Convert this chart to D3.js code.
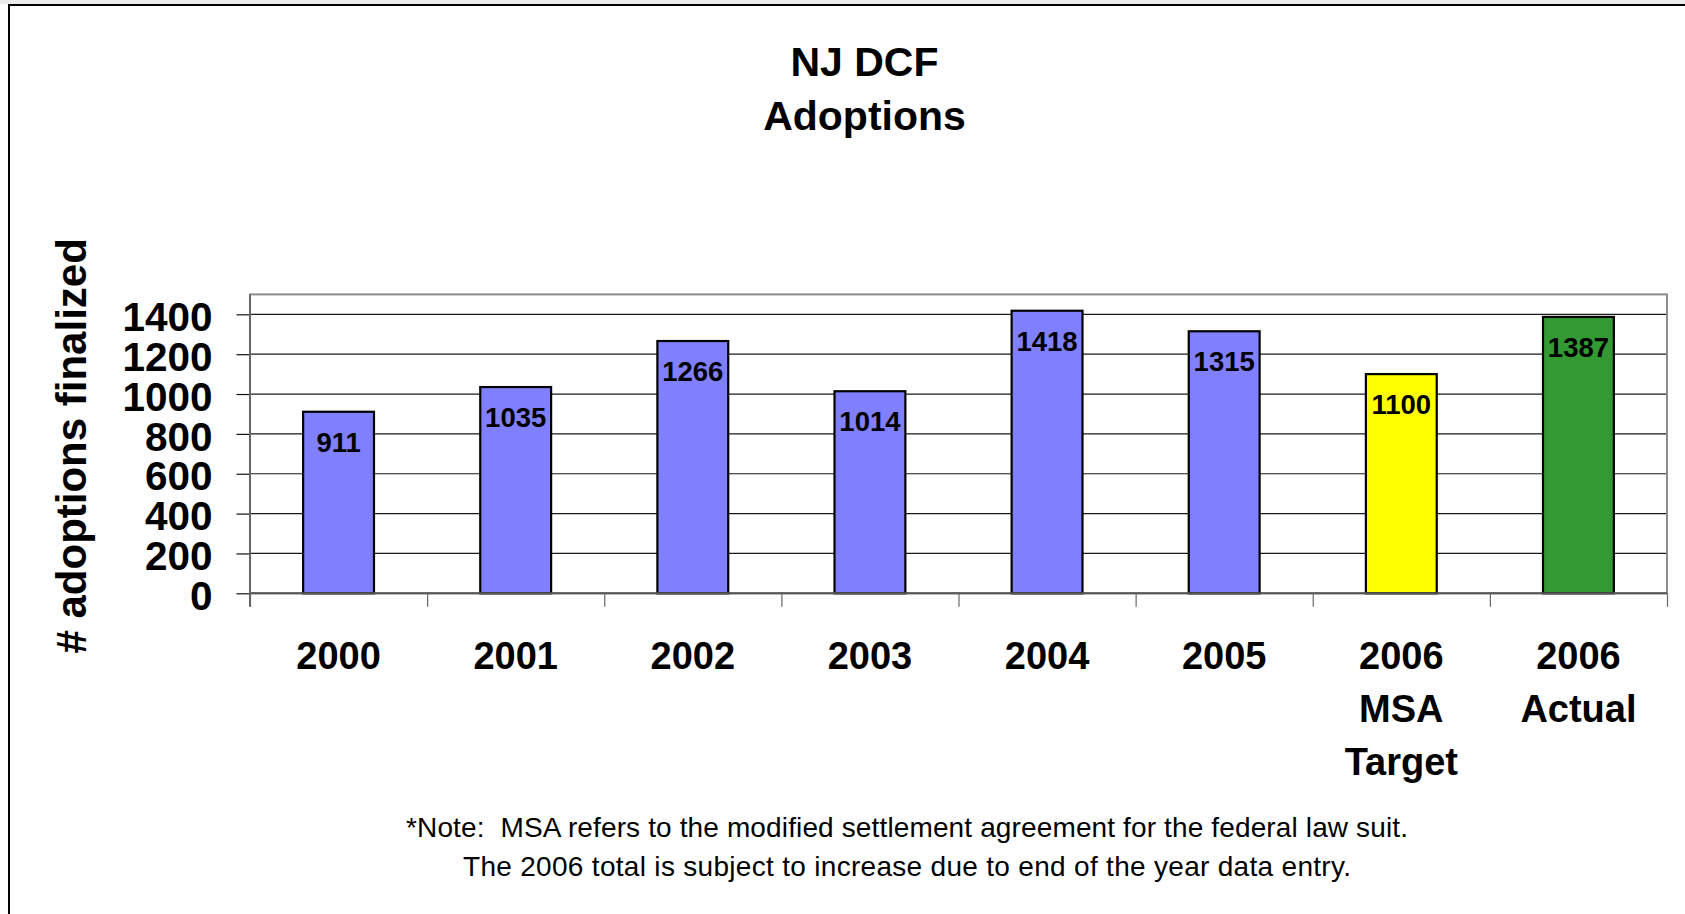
<!DOCTYPE html>
<html>
<head>
<meta charset="utf-8">
<script src="https://cdn.jsdelivr.net/npm/d3@7"></script>
<style>
    html, body { margin: 0; padding: 0; background: #fff; }
    svg { display: block; font-family: Arial, "Liberation Sans", Helvetica, sans-serif; }
    .axis path { display: none; }
    .note { white-space: pre; }
</style>
</head>
<body>
<svg id="chart" width="1685" height="914"></svg>
<script>
var categories = ["2000", "2001", "2002", "2003", "2004", "2005", "2006 MSA Target", "2006 Actual"]
var adoptions = [911, 1035, 1266, 1014, 1418, 1315, 1100, 1387]
var barColors = ["#8080FF", "#8080FF", "#8080FF", "#8080FF", "#8080FF", "#8080FF", "#FFFF00", "#339933"]
var yTicks = [0, 200, 400, 600, 800, 1000, 1200, 1400]
var titleLines = ["NJ DCF", "Adoptions"]
var yTitle = "# adoptions finalized"
var noteLines = [
    "*Note:  MSA refers to the modified settlement agreement for the federal law suit.",
    "The 2006 total is subject to increase due to end of the year data entry."
]

var svg = d3.select("#chart")
var W = 1685, H = 914
var plot = {left: 250, right: 1667, top: 294.4, bottom: 593.3}

// outer frame (cropped at right and bottom)
svg.append("rect").attr("x", 0).attr("y", 0).attr("width", W).attr("height", 4).attr("fill", "#ececec")
svg.append("path")
    .attr("d", "M9," + H + "V5H" + W)
    .attr("fill", "none")
    .attr("stroke", "#000")
    .attr("stroke-width", 2)

// title
svg.append("g").selectAll("text")
    .data(titleLines)
    .enter().append("text")
    .attr("x", 864.5)
    .attr("y", function(d, i) { return 76 + i * 54 })
    .attr("text-anchor", "middle")
    .attr("font-size", 41)
    .attr("font-weight", "bold")
    .text(function(d) { return d })

var x = d3.scaleBand()
    .domain(categories)
    .range([plot.left, plot.right])
    .paddingInner(0.6)
    .paddingOuter(0.3)

var xEdges = d3.scaleLinear()
    .domain([0, categories.length])
    .range([plot.left, plot.right])

var y = d3.scaleLinear()
    .domain([0, 1500])
    .range([plot.bottom, plot.top])

// grid lines Y = const
svg.append("g")
    .selectAll("line")
    .data(yTicks.filter(function(d) { return d > 0 }))
    .enter().append("line")
    .attr("x1", plot.left)
    .attr("x2", plot.right)
    .attr("y1", function(d) { return y(d) })
    .attr("y2", function(d) { return y(d) })
    .attr("stroke", "#1a1a1a")
    .attr("stroke-width", 1.2)

// plot frame
svg.append("rect")
    .attr("x", plot.left)
    .attr("y", y(1500))
    .attr("width", plot.right - plot.left)
    .attr("height", y(0) - y(1500))
    .attr("fill", "none")
    .attr("stroke", "#8c8c8c")
    .attr("stroke-width", 2)

// bars
svg.append("g")
    .selectAll("rect")
    .data(adoptions)
    .enter().append("rect")
    .attr("x", function(d, i) { return x(categories[i]) })
    .attr("y", function(d) { return y(d) })
    .attr("width", x.bandwidth())
    .attr("height", function(d) { return y(0) - y(d) })
    .attr("fill", function(d, i) { return barColors[i] })
    .attr("stroke", "#000")
    .attr("stroke-width", 2.2)

// value labels inside bar ends
svg.append("g")
    .selectAll("text")
    .data(adoptions)
    .enter().append("text")
    .attr("x", function(d, i) { return x(categories[i]) + x.bandwidth() / 2 })
    .attr("y", function(d) { return y(d) + 40 })
    .attr("text-anchor", "middle")
    .attr("font-size", 27.5)
    .attr("font-weight", "bold")
    .attr("fill", "#000")
    .text(function(d) { return d })

// X axis line
svg.append("line")
    .attr("x1", plot.left).attr("x2", plot.right)
    .attr("y1", y(0)).attr("y2", y(0))
    .attr("stroke", "#555")
    .attr("stroke-width", 2)

// category boundary ticks
svg.append("g")
    .attr("class", "axis")
    .attr("transform", "translate(0," + y(0) + ")")
    .call(d3.axisBottom(xEdges).ticks(categories.length).tickSize(13.5).tickFormat(""))
    .selectAll(".tick line")
    .attr("stroke", "#666")
    .attr("stroke-width", 1.2)

// category labels
var xAxis = svg.append("g")
    .attr("class", "axis")
    .attr("transform", "translate(0," + y(0) + ")")
    .call(d3.axisBottom(x).tickSize(0).tickFormat(""))

xAxis.selectAll(".tick text")
    .attr("y", 0)
    .attr("dy", null)
    .attr("fill", "#000")
    .attr("font-size", 38)
    .attr("font-weight", "bold")
    .attr("font-family", null)
    .each(function(d) {
        var t = d3.select(this)
        d.split(" ").forEach(function(line, i) {
            t.append("tspan")
                .attr("x", 0)
                .attr("y", 76 + i * 53)
                .text(line)
        })
    })

// Y axis
svg.append("g")
    .attr("class", "axis")
    .attr("transform", "translate(" + plot.left + ",0)")
    .call(d3.axisLeft(y).tickValues(yTicks).tickSize(13.5).tickPadding(24).tickFormat(d3.format("d")))
    .call(function(g) {
        g.selectAll(".tick line").attr("stroke", "#111").attr("stroke-width", 1.2)
        g.selectAll(".tick text")
            .attr("fill", "#000")
            .attr("font-size", 40.5)
            .attr("font-weight", "bold")
            .attr("font-family", null)
            .attr("dy", "0.4em")
    })

svg.append("line")
    .attr("x1", plot.left).attr("x2", plot.left)
    .attr("y1", y(1500)).attr("y2", y(0) + 13.5)
    .attr("stroke", "#666")
    .attr("stroke-width", 2)

// Y axis title
svg.append("text")
    .attr("transform", "translate(86," + ((plot.top + plot.bottom) / 2 + 2) + ") rotate(-90)")
    .attr("text-anchor", "middle")
    .attr("font-size", 42)
    .attr("font-weight", "bold")
    .text(yTitle)

// footnote
var noteWidths = [1002, 888]
svg.append("g").selectAll("text")
    .data(noteLines)
    .enter().append("text")
    .attr("class", "note")
    .attr("x", 907)
    .attr("y", function(d, i) { return 836.7 + i * 39.3 })
    .attr("text-anchor", "middle")
    .attr("font-size", 28)
    .attr("textLength", function(d, i) { return noteWidths[i] })
    .attr("lengthAdjust", "spacing")
    .text(function(d) { return d })
</script>
</body>
</html>
